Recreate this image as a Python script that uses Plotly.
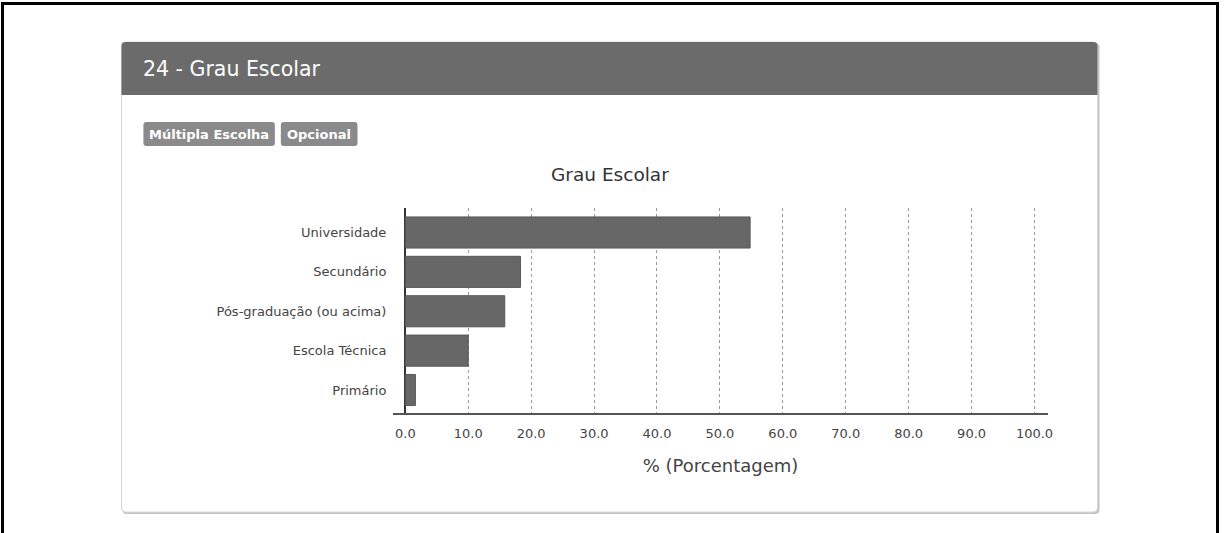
import plotly.graph_objects as go

# Survey question 24: education level of respondents (percent)
categories = ["Universidade", "Secundário", "Pós-graduação (ou acima)", "Escola Técnica", "Primário"]
percent = [54.8, 18.3, 15.8, 10.0, 1.6]
x_ticks = [0, 10, 20, 30, 40, 50, 60, 70, 80, 90, 100]

W, H = 1225, 533
FONT = "DejaVu Sans"


def px(x):
    return x / W


def py(y):
    return 1 - y / H


def rounded_path(x0, y0, x1, y1, r, top_only=False):
    """Rounded rectangle path in paper coordinates, from pixel corners."""
    rb = 0 if top_only else r
    pts = [
        f"M {px(x0 + r)} {py(y0)}",
        f"L {px(x1 - r)} {py(y0)}",
        f"Q {px(x1)} {py(y0)} {px(x1)} {py(y0 + r)}",
        f"L {px(x1)} {py(y1 - rb)}",
        f"Q {px(x1)} {py(y1)} {px(x1 - rb)} {py(y1)}",
        f"L {px(x0 + rb)} {py(y1)}",
        f"Q {px(x0)} {py(y1)} {px(x0)} {py(y1 - rb)}",
        f"L {px(x0)} {py(y0 + r)}",
        f"Q {px(x0)} {py(y0)} {px(x0 + r)} {py(y0)}",
        "Z",
    ]
    return " ".join(pts)


fig = go.Figure()

fig.add_trace(go.Bar(
    x=percent,
    y=categories,
    orientation="h",
    marker=dict(color="#676767", line=dict(color="#585858", width=1)),
    hoverinfo="x+y",
))

shapes = []
# outer frame
shapes.append(dict(type="rect", xref="paper", yref="paper",
                   x0=px(2.5), x1=px(1222.5), y0=py(535), y1=py(3.5),
                   line=dict(color="#000000", width=3), fillcolor="rgba(0,0,0,0)", layer="below"))
# card shadow
shapes.append(dict(type="path", xref="paper", yref="paper",
                   path=rounded_path(123, 43, 1104, 514, 4),
                   fillcolor="#c4c4c4", line=dict(width=0), layer="below"))
# card body
shapes.append(dict(type="path", xref="paper", yref="paper",
                   path=rounded_path(122, 42, 1102, 512, 4),
                   fillcolor="#ffffff", line=dict(color="#d6d6d6", width=1), layer="below"))
# card header
shapes.append(dict(type="path", xref="paper", yref="paper",
                   path=rounded_path(122, 42, 1102, 95, 4, top_only=True),
                   fillcolor="#6b6b6b", line=dict(width=0), layer="below"))
# badges
for bx0, bx1 in [(144, 276), (282, 359)]:
    shapes.append(dict(type="path", xref="paper", yref="paper",
                       path=rounded_path(bx0, 122, bx1, 146, 3),
                       fillcolor="#8a8a8a", line=dict(width=0), layer="below"))

annotations = [
    dict(text="24 - Grau Escolar", x=px(142), y=py(69), xref="paper", yref="paper",
         xanchor="left", yanchor="middle", showarrow=False,
         font=dict(family=FONT, size=20.5, color="#ffffff")),
    dict(text="<b>Múltipla Escolha</b>", x=px(210), y=py(134), xref="paper", yref="paper",
         xanchor="center", yanchor="middle", showarrow=False,
         font=dict(family=FONT, size=13, color="#ffffff")),
    dict(text="<b>Opcional</b>", x=px(320.5), y=py(134), xref="paper", yref="paper",
         xanchor="center", yanchor="middle", showarrow=False,
         font=dict(family=FONT, size=13, color="#ffffff")),
    dict(text="Grau Escolar", x=px(612), y=py(174), xref="paper", yref="paper",
         xanchor="center", yanchor="middle", showarrow=False,
         font=dict(family=FONT, size=18.5, color="#333333")),
]

fig.update_layout(
    width=W, height=H,
    margin=dict(l=0, r=0, t=0, b=0),
    paper_bgcolor="#ffffff",
    plot_bgcolor="rgba(0,0,0,0)",
    showlegend=False,
    bargap=0.21,
    shapes=shapes,
    annotations=annotations,
    font=dict(family=FONT, color="#444444"),
    xaxis=dict(
        domain=[px(395), px(1052)],
        range=[-1.9, 102.1],
        tickvals=x_ticks,
        ticktext=[f"{v:.1f}" for v in x_ticks],
        tickfont=dict(family=FONT, size=13, color="#444444"),
        ticks="",
        ticklabelstandoff=7,
        showgrid=True,
        gridcolor="#9a9a9a",
        gridwidth=1,
        griddash="3px,3px",
        zeroline=True,
        zerolinecolor="#333333",
        zerolinewidth=1.5,
        showline=True,
        linecolor="#555555",
        linewidth=2,
        title=dict(text="% (Porcentagem)", standoff=20,
                   font=dict(family=FONT, size=18, color="#444444")),
        fixedrange=True,
    ),
    yaxis=dict(
        domain=[py(413), py(208)],
        type="category",
        categoryorder="array",
        categoryarray=categories[::-1],
        range=[-0.584, 4.622],
        tickfont=dict(family=FONT, size=13, color="#444444"),
        ticks="",
        ticklabelstandoff=6,
        showgrid=False,
        zeroline=False,
        showline=False,
        fixedrange=True,
    ),
)

fig.write_html("out.html")
